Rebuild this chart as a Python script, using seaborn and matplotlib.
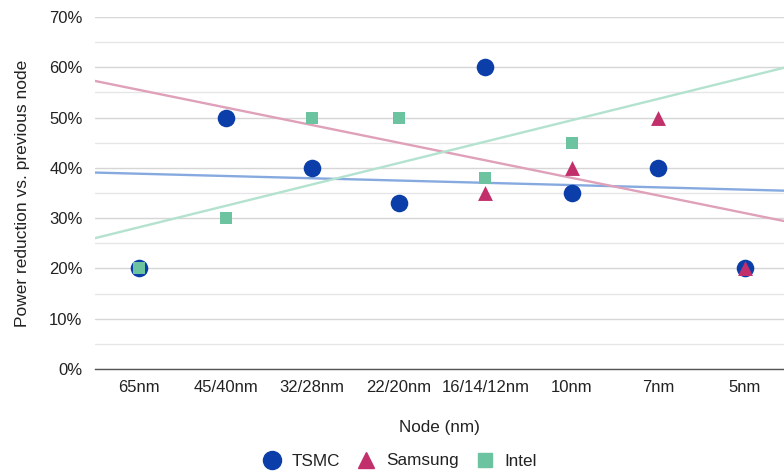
import matplotlib
matplotlib.use("Agg")
import matplotlib.pyplot as plt
import seaborn as sns
import numpy as np
from matplotlib.ticker import PercentFormatter, MultipleLocator
from matplotlib.lines import Line2D

categories = ["65nm", "45/40nm", "32/28nm", "22/20nm", "16/14/12nm", "10nm", "7nm", "5nm"]

tsmc_nodes = ["65nm", "45/40nm", "32/28nm", "22/20nm", "16/14/12nm", "10nm", "7nm", "5nm"]
tsmc_values = [20, 50, 40, 33, 60, 35, 40, 20]

samsung_nodes = ["16/14/12nm", "10nm", "7nm", "5nm"]
samsung_values = [35, 40, 50, 20]

intel_nodes = ["65nm", "45/40nm", "32/28nm", "22/20nm", "16/14/12nm", "10nm"]
intel_values = [20, 30, 50, 50, 38, 45]

sns.set_style("white")
plt.rcParams["font.family"] = ["Liberation Sans", "DejaVu Sans"]

fig = plt.figure(figsize=(7.84, 4.72), dpi=100)
ax = fig.add_axes([95 / 784, 1 - 369 / 472, 1 - 95 / 784, (369 - 17) / 472])

xlim = (-0.51, 7.45)
ax.set_xlim(*xlim)
ax.set_ylim(0, 70)

series = [
    ("TSMC", tsmc_nodes, tsmc_values, "#0b3ea8", "#86aadf", "o", 160),
    ("Samsung", samsung_nodes, samsung_values, "#c2306c", "#dfa0b9", "^", 115),
    ("Intel", intel_nodes, intel_values, "#6cc3a0", "#b3e2cf", "s", 80),
]

for name, nodes, vals, col, tcol, mk, s in series:
    xi = np.array([categories.index(n) for n in nodes], dtype=float)
    sns.regplot(x=xi, y=np.array(vals, dtype=float), ax=ax, scatter=False, ci=None,
                truncate=False, color=tcol, line_kws=dict(lw=1.7, zorder=2))
    ax.set_xlim(*xlim)

for i, (name, nodes, vals, col, tcol, mk, s) in enumerate(series):
    xi = [categories.index(n) for n in nodes]
    sns.scatterplot(x=xi, y=vals, ax=ax, color=col, marker=mk, s=s, linewidth=0,
                    zorder=3 + i, legend=False)

ax.set_xlim(*xlim)
ax.set_ylim(0, 70)
ax.set_xticks(range(len(categories)))
ax.set_xticklabels(categories)
ax.yaxis.set_major_locator(MultipleLocator(10))
ax.yaxis.set_minor_locator(MultipleLocator(5))
ax.yaxis.set_major_formatter(PercentFormatter(decimals=0))
ax.grid(axis="y", which="major", color="#d6d6d6", lw=1.0, zorder=0)
ax.grid(axis="y", which="minor", color="#e6e6e6", lw=1.0, zorder=0)
ax.set_axisbelow(True)
for sp in ["top", "right", "left"]:
    ax.spines[sp].set_visible(False)
ax.spines["bottom"].set_color("#555555")
ax.spines["bottom"].set_linewidth(1.0)
ax.tick_params(axis="both", which="both", length=0, labelsize=12, colors="#222222")
ax.tick_params(axis="x", pad=8)
ax.tick_params(axis="y", pad=9)
ax.set_xlabel("Node (nm)", fontsize=12.3, color="#222222", labelpad=18)
ax.set_ylabel("Power reduction vs. previous node", fontsize=12.5, color="#222222", labelpad=14)

handles = [Line2D([], [], ls="none", marker=mk, color=col, markersize=ms, label=name)
           for (name, _, _, col, _, mk, _), ms in zip(series, [13, 11, 9.5])]
fig.legend(handles=handles, loc="center", bbox_to_anchor=(396 / 784, 1 - 461 / 472),
           ncol=3, frameon=False, fontsize=12.3, handletextpad=0.15, columnspacing=0.55,
           labelcolor="#222222")

fig.savefig("out.png", dpi=100)
